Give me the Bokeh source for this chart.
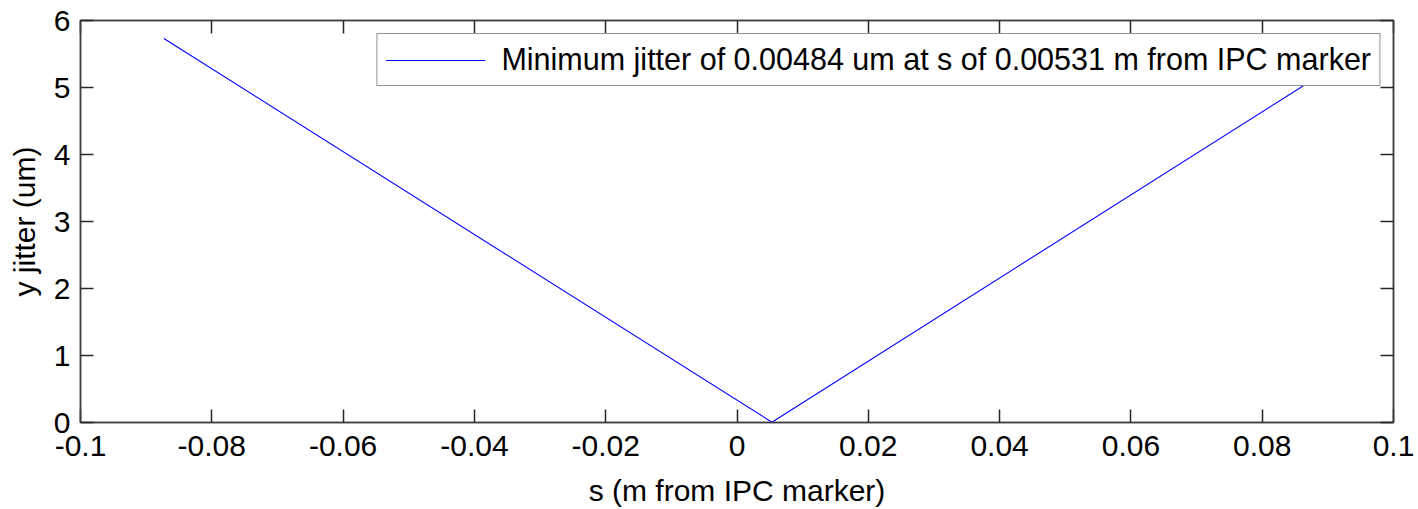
from bokeh.plotting import figure
from bokeh.models import (FixedTicker, CustomJSTickFormatter, LinearAxis, Range1d,
                          Legend, LegendItem)
from bokeh.embed import file_html
from bokeh.resources import INLINE

# Data
s_pos = [-0.0873, 0.00531, 0.0873]
y_jitter = [5.73, 0.00484, 5.09]
x_ticks = [-0.1, -0.08, -0.06, -0.04, -0.02, 0.0, 0.02, 0.04, 0.06, 0.08, 0.1]
y_ticks = [0, 1, 2, 3, 4, 5, 6]
legend_label = "Minimum jitter of 0.00484 um at s of 0.00531 m from IPC marker"
x_label = "s (m from IPC marker)"
y_label = "y jitter (um)"

FONT = "Liberation Sans"
FS = "30px"
AXC = "#404040"

p = figure(width=1418, height=509, output_backend="svg", toolbar_location=None,
           x_range=Range1d(-0.1, 0.1), y_range=Range1d(0, 6),
           min_border_left=80, min_border_top=20, min_border_right=25,
           min_border_bottom=81)
p.background_fill_color = "white"
p.border_fill_color = "white"
p.xgrid.visible = False
p.ygrid.visible = False
p.outline_line_color = AXC
p.outline_line_width = 1.5

fmt = CustomJSTickFormatter(code="return Number(tick.toFixed(4)).toString();")
empty = CustomJSTickFormatter(code="return '';")

def style(ax, ticks, formatter, labels=True):
    ax.ticker = FixedTicker(ticks=ticks)
    ax.formatter = formatter
    ax.major_tick_in = 13
    ax.major_tick_out = 0
    ax.minor_tick_in = 0
    ax.minor_tick_out = 0
    ax.major_tick_line_color = "#262626"
    ax.major_tick_line_width = 1.5
    ax.axis_line_color = AXC
    ax.axis_line_width = 1.5
    ax.major_label_text_font = FONT
    ax.major_label_text_font_size = FS
    ax.major_label_text_color = "black"
    ax.axis_label_text_font = FONT
    ax.axis_label_text_font_size = FS
    ax.axis_label_text_font_style = "normal"
    ax.axis_label_text_color = "black"
    if not labels:
        ax.major_label_standoff = 0
        ax.major_label_text_font_size = "0px"

style(p.xaxis[0], x_ticks, fmt)
p.xaxis[0].axis_label = x_label
p.xaxis[0].major_label_standoff = 13
p.xaxis[0].axis_label_standoff = 15

style(p.yaxis[0], y_ticks, fmt)
p.yaxis[0].axis_label = y_label
p.yaxis[0].major_label_standoff = 10
p.yaxis[0].axis_label_standoff = 10

top = LinearAxis()
style(top, x_ticks, empty, labels=False)
p.add_layout(top, "above")
right = LinearAxis()
style(right, y_ticks, empty, labels=False)
p.add_layout(right, "right")

r = p.line(s_pos, y_jitter, line_color="#0000ff", line_width=1.1)

legend = Legend(items=[LegendItem(label=legend_label, renderers=[r])],
                location="top_right", margin=13, padding=8,
                glyph_width=100, label_standoff=16,
                label_text_font=FONT, label_text_font_size="30.5px",
                label_text_color="black",
                border_line_color="#262626", border_line_width=1.5,
                background_fill_color="white", background_fill_alpha=1.0,
                spacing=0)
p.add_layout(legend, "center")

open("out.html", "w").write(file_html(p, INLINE))
